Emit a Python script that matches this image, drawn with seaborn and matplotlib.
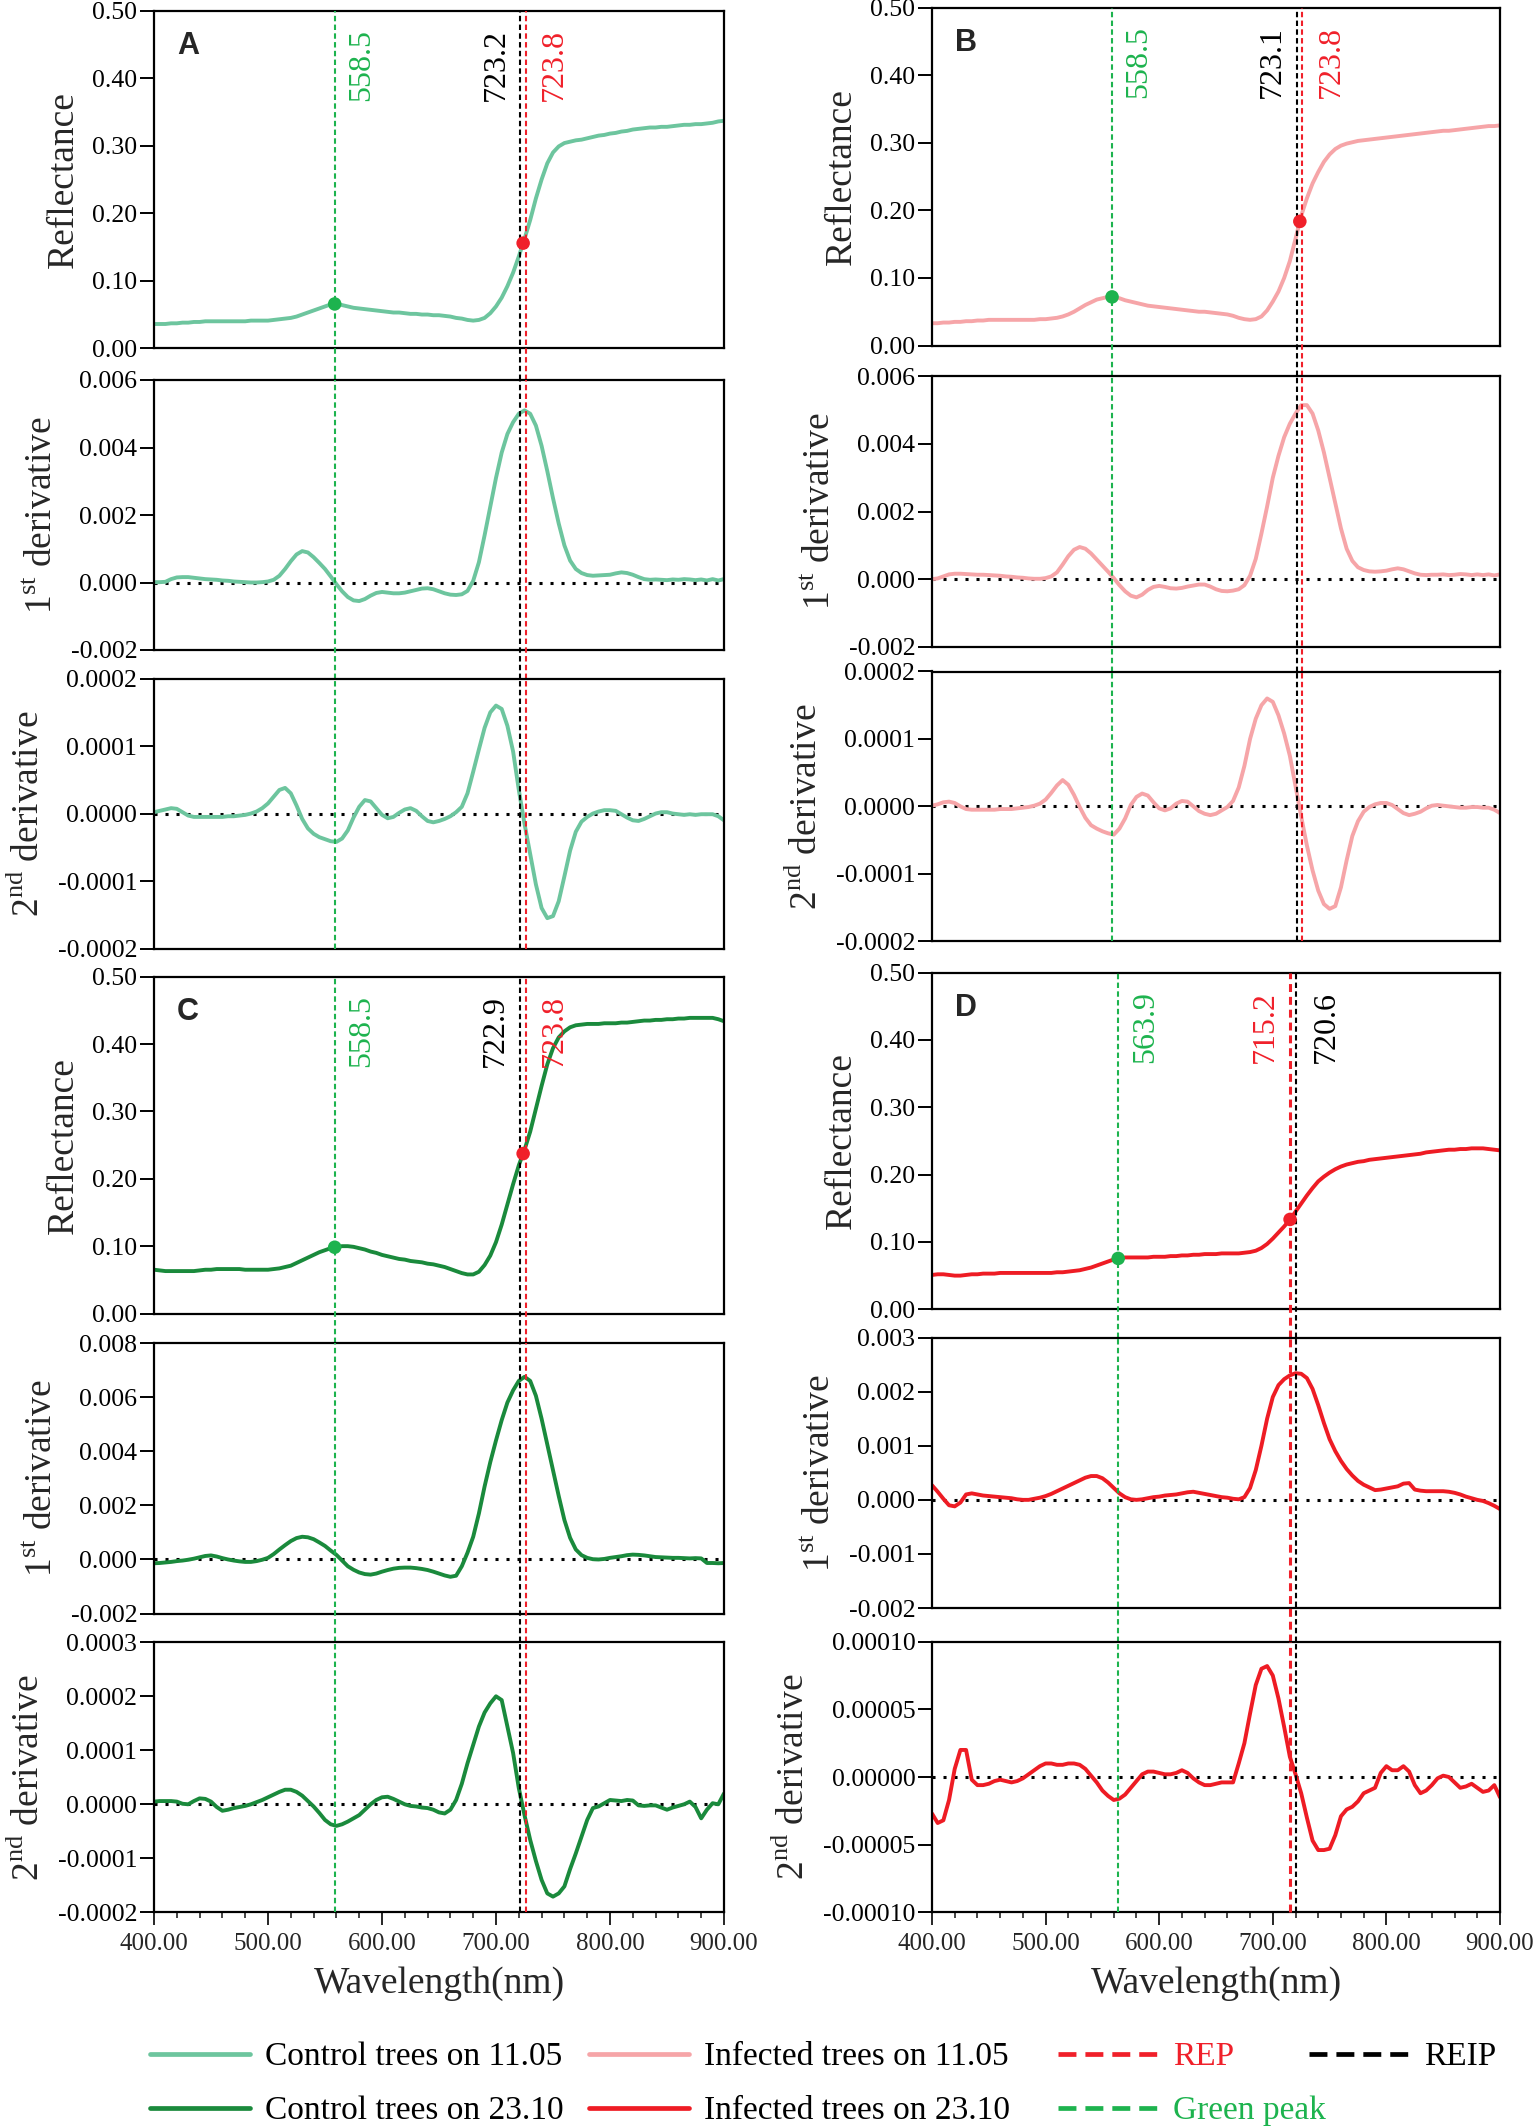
import numpy as np
import matplotlib
matplotlib.use("Agg")
import matplotlib.pyplot as plt
import seaborn as sns
from matplotlib.lines import Line2D
from matplotlib.transforms import ScaledTranslation
from matplotlib.ticker import FixedLocator, MultipleLocator, FuncFormatter

# ------------------------------------------------------------------ data
wavelength = np.arange(400, 905, 5)          # nm, 101 samples
E4 = 1e-4
E5 = 1e-5

# --- A: Control trees on 11.05
refl_A = np.array([
    .036, .036, .036, .037, .037, .038, .038, .039, .039, .040,
    .040, .040, .040, .040, .040, .040, .040, .041, .041, .041,
    .041, .042, .043, .044, .045, .047, .050, .053, .056, .059,
    .062, .065, .066, .064, .062, .060, .059, .058, .057, .056,
    .055, .054, .053, .053, .052, .051, .051, .050, .050, .049,
    .049, .048, .047, .045, .044, .042, .041, .042, .045, .052,
    .062, .075, .092, .112, .136, .162, .190, .222, .250, .274,
    .290, .299, .304, .306, .308, .309, .311, .313, .315, .316,
    .318, .319, .321, .322, .324, .325, .326, .327, .327, .328,
    .328, .329, .330, .331, .331, .332, .332, .333, .334, .336,
    .337])
d1_A = np.array([
    0.1, 0.1, 0.2, 1.0, 1.5, 1.6, 1.6, 1.4, 1.2, 1.0,
    0.9, 0.8, 0.6, 0.5, 0.3, 0.2, 0.1, 0.0, 0.0, 0.1,
    0.3, 0.8, 2.0, 4.0, 6.3, 8.3, 9.3, 8.9, 7.5, 5.8,
    4.0, 1.8, -0.5, -2.6, -4.3, -5.3, -5.5, -4.9, -3.9, -3.1,
    -2.8, -3.0, -3.2, -3.2, -3.0, -2.6, -2.2, -1.8, -1.7, -2.0,
    -2.6, -3.2, -3.6, -3.7, -3.5, -2.5, 0.5, 6.0, 14.0, 22.5,
    31.0, 38.5, 44.0, 47.5, 50.0, 51.0, 50.0, 46.5, 40.5, 33.0,
    25.0, 17.5, 11.0, 6.5, 4.0, 2.8, 2.2, 2.0, 2.1, 2.2,
    2.3, 2.7, 3.0, 2.8, 2.3, 1.6, 1.0, 0.8, 0.9, 0.8,
    0.7, 0.9, 0.8, 1.0, 0.9, 0.7, 0.9, 0.6, 1.0, 0.6,
    1.0]) * E4
d2_A = np.array([
    0.2, 0.4, 0.6, 0.8, 0.7, 0.2, -0.3, -0.5, -0.5, -0.5,
    -0.5, -0.5, -0.5, -0.4, -0.4, -0.3, -0.2, 0.0, 0.3, 0.8,
    1.5, 2.5, 3.5, 3.8, 3.0, 1.2, -0.8, -2.2, -3.0, -3.5,
    -3.8, -4.1, -4.2, -3.7, -2.5, -0.6, 1.0, 2.0, 1.8, 0.8,
    -0.2, -0.7, -0.5, 0.1, 0.6, 0.8, 0.4, -0.4, -1.1, -1.3,
    -1.1, -0.8, -0.4, 0.2, 1.0, 3.0, 6.2, 9.5, 12.7, 15.0,
    16.0, 15.5, 13.0, 9.2, 3.5, -1.5, -6.0, -10.5, -14.0, -15.5,
    -15.2, -13.0, -9.3, -5.5, -2.7, -1.2, -0.5, 0.0, 0.3, 0.5,
    0.5, 0.4, -0.1, -0.6, -1.0, -1.1, -0.8, -0.4, 0.0, 0.2,
    0.2, 0.0, -0.1, -0.2, -0.1, -0.2, -0.1, -0.1, -0.1, -0.4,
    -1.0]) * E5

# --- B: Infected trees on 11.05
refl_B = np.array([
    .033, .033, .034, .034, .035, .035, .036, .036, .037, .037,
    .038, .038, .038, .038, .038, .038, .038, .038, .038, .039,
    .039, .040, .041, .043, .046, .050, .055, .060, .064, .068,
    .070, .072, .072, .070, .067, .065, .063, .061, .059, .058,
    .057, .056, .055, .054, .053, .052, .051, .050, .050, .049,
    .048, .047, .046, .044, .041, .039, .038, .039, .043, .052,
    .065, .080, .100, .125, .158, .192, .218, .240, .257, .272,
    .283, .291, .296, .299, .301, .303, .304, .305, .306, .307,
    .308, .309, .310, .311, .312, .313, .314, .315, .316, .317,
    .318, .318, .319, .320, .321, .322, .323, .324, .325, .325,
    .326])
d1_B = np.array([
    0.0, 0.2, 0.8, 1.4, 1.6, 1.6, 1.5, 1.4, 1.3, 1.3,
    1.2, 1.1, 1.0, 0.8, 0.7, 0.5, 0.4, 0.2, 0.1, 0.1,
    0.3, 0.8, 2.0, 4.3, 6.8, 8.7, 9.5, 9.0, 7.6, 5.8,
    4.0, 2.2, 0.3, -1.8, -3.6, -4.9, -5.4, -4.6, -3.2, -2.3,
    -2.0, -2.3, -2.7, -2.8, -2.6, -2.2, -1.9, -1.6, -1.6, -2.2,
    -3.0, -3.5, -3.6, -3.4, -3.0, -1.8, 1.0, 6.0, 13.5, 21.5,
    30.0, 36.5, 42.0, 46.0, 49.0, 51.5, 51.5, 49.0, 44.0, 37.5,
    30.0, 22.5, 15.0, 9.0, 5.4, 3.5, 2.7, 2.3, 2.2, 2.3,
    2.5, 2.9, 3.2, 2.9, 2.3, 1.7, 1.3, 1.2, 1.3, 1.3,
    1.4, 1.2, 1.3, 1.5, 1.4, 1.2, 1.4, 1.2, 1.4, 1.1,
    1.4]) * E4
d2_B = np.array([
    0.1, 0.3, 0.6, 0.7, 0.5, 0.0, -0.4, -0.5, -0.5, -0.5,
    -0.5, -0.5, -0.4, -0.4, -0.4, -0.3, -0.2, -0.1, 0.1, 0.4,
    1.0, 2.0, 3.1, 3.9, 3.2, 1.7, -0.1, -1.7, -2.8, -3.3,
    -3.7, -4.0, -4.2, -3.3, -1.8, 0.2, 1.4, 1.9, 1.6, 0.6,
    -0.3, -0.6, -0.3, 0.4, 0.8, 0.7, 0.0, -0.7, -1.1, -1.3,
    -1.1, -0.6, -0.1, 0.8, 2.8, 6.0, 10.0, 13.0, 15.0, 16.0,
    15.5, 13.5, 10.8, 7.5, 3.0, -1.5, -5.8, -9.5, -12.5, -14.5,
    -15.2, -14.8, -12.0, -8.0, -4.4, -2.2, -0.8, -0.1, 0.3, 0.5,
    0.5, 0.2, -0.4, -1.0, -1.3, -1.1, -0.8, -0.3, 0.1, 0.2,
    0.1, 0.0, -0.1, -0.2, -0.2, -0.1, -0.1, -0.2, -0.2, -0.5,
    -1.0]) * E5

# --- C: Control trees on 23.10
refl_C = np.array([
    .065, .064, .063, .063, .063, .063, .063, .063, .064, .065,
    .065, .066, .066, .066, .066, .066, .065, .065, .065, .065,
    .065, .066, .067, .069, .071, .075, .079, .083, .087, .091,
    .094, .097, .099, .100, .100, .099, .097, .095, .092, .090,
    .087, .085, .083, .081, .080, .078, .077, .076, .074, .073,
    .071, .069, .066, .063, .060, .058, .058, .062, .072, .086,
    .106, .132, .162, .192, .220, .243, .270, .304, .338, .370,
    .394, .410, .419, .425, .428, .429, .430, .430, .430, .431,
    .431, .431, .432, .432, .433, .434, .435, .435, .436, .436,
    .437, .437, .438, .438, .439, .439, .439, .439, .439, .437,
    .434])
d1_C = np.array([
    -1.4, -1.3, -1.1, -0.9, -0.6, -0.4, -0.1, 0.3, 0.8, 1.3,
    1.5, 1.1, 0.5, 0.0, -0.4, -0.7, -0.9, -0.9, -0.6, -0.1,
    0.6, 2.0, 3.7, 5.3, 6.8, 7.9, 8.4, 8.2, 7.5, 6.3,
    5.0, 3.3, 1.7, -0.4, -2.5, -3.8, -4.8, -5.4, -5.6, -5.2,
    -4.5, -3.9, -3.4, -3.1, -3.0, -3.0, -3.2, -3.5, -3.9, -4.5,
    -5.2, -5.9, -6.4, -6.0, -2.5, 2.5, 8.4, 17.0, 27.0, 36.0,
    44.0, 51.5, 58.0, 62.5, 66.0, 67.5, 66.0, 60.5, 52.0, 42.5,
    33.0, 23.5, 14.6, 8.0, 3.7, 1.6, 0.6, 0.1, 0.0, 0.2,
    0.6, 0.9, 1.2, 1.6, 1.8, 1.7, 1.5, 1.2, 0.9, 0.8,
    0.7, 0.6, 0.6, 0.5, 0.4, 0.5, 0.4, -1.3, -1.3, -1.4,
    -1.3]) * E4
d2_C = np.array([
    0.5, 0.6, 0.6, 0.6, 0.5, 0.1, 0.0, 0.6, 1.1, 1.0,
    0.5, -0.5, -1.2, -1.0, -0.7, -0.5, -0.3, 0.0, 0.4, 0.8,
    1.3, 1.8, 2.3, 2.7, 2.7, 2.3, 1.6, 0.6, -0.4, -1.6,
    -2.9, -3.7, -4.0, -3.7, -3.2, -2.6, -2.0, -1.0, 0.0, 0.8,
    1.3, 1.4, 1.0, 0.5, 0.0, -0.3, -0.4, -0.6, -0.7, -1.0,
    -1.5, -1.7, -1.0, 0.8, 3.8, 7.6, 11.0, 14.4, 17.0, 18.7,
    20.0, 19.3, 14.4, 9.5, 3.0, -2.0, -6.6, -10.5, -14.0, -16.5,
    -17.1, -16.5, -15.2, -12.0, -9.1, -6.0, -2.9, -0.7, -0.4, 0.2,
    0.8, 0.7, 0.6, 0.8, 0.7, -0.2, -0.3, -0.2, -0.2, -0.6,
    -1.0, -0.6, -0.3, 0.0, 0.5, -0.5, -2.6, -1.0, 0.2, 0.0,
    2.0]) * E5

# --- D: Infected trees on 23.10
refl_D = np.array([
    .051, .052, .052, .051, .050, .050, .051, .052, .052, .053,
    .053, .053, .054, .054, .054, .054, .054, .054, .054, .054,
    .054, .054, .055, .055, .056, .057, .058, .060, .062, .065,
    .068, .071, .074, .076, .077, .077, .077, .077, .077, .078,
    .078, .078, .079, .079, .080, .080, .081, .081, .082, .082,
    .082, .083, .083, .083, .083, .084, .085, .087, .091, .097,
    .105, .114, .123, .133, .145, .157, .169, .180, .190, .197,
    .203, .208, .212, .215, .217, .219, .220, .222, .223, .224,
    .225, .226, .227, .228, .229, .230, .231, .233, .234, .235,
    .236, .237, .237, .238, .238, .239, .239, .239, .238, .237,
    .236])
d1_D = np.array([
    2.7, 1.5, 0.2, -1.0, -1.2, -0.5, 1.0, 1.2, 1.0, 0.8,
    0.7, 0.6, 0.5, 0.4, 0.3, 0.1, 0.0, 0.0, 0.2, 0.4,
    0.7, 1.1, 1.6, 2.1, 2.6, 3.1, 3.6, 4.1, 4.4, 4.4,
    4.0, 3.2, 2.2, 1.2, 0.5, 0.1, 0.0, 0.1, 0.3, 0.5,
    0.6, 0.8, 0.9, 1.0, 1.2, 1.4, 1.5, 1.3, 1.1, 0.9,
    0.7, 0.5, 0.4, 0.2, 0.1, 0.5, 2.2, 5.5, 10.0, 15.0,
    19.0, 21.2, 22.3, 23.0, 23.4, 23.3, 22.5, 20.5, 17.5, 14.2,
    11.2, 9.0, 7.2, 5.7, 4.5, 3.5, 2.8, 2.3, 1.8, 1.9,
    2.1, 2.3, 2.5, 3.0, 3.1, 1.9, 1.7, 1.6, 1.6, 1.6,
    1.6, 1.5, 1.3, 1.0, 0.6, 0.3, 0.0, -0.2, -0.6, -1.1,
    -1.7]) * E4
d2_D = np.array([
    -2.7, -3.4, -3.2, -1.7, 0.6, 2.0, 2.0, -0.2, -0.6, -0.6,
    -0.5, -0.3, -0.2, -0.3, -0.4, -0.3, -0.1, 0.2, 0.5, 0.8,
    1.0, 1.0, 0.9, 0.9, 1.0, 1.0, 0.9, 0.6, 0.1, -0.4,
    -1.0, -1.4, -1.7, -1.6, -1.3, -0.8, -0.3, 0.2, 0.4, 0.4,
    0.3, 0.2, 0.2, 0.3, 0.5, 0.3, -0.1, -0.4, -0.6, -0.6,
    -0.5, -0.4, -0.4, -0.4, 1.0, 2.5, 4.7, 6.8, 8.0, 8.2,
    7.5, 5.8, 3.7, 1.5, 0.2, -1.2, -3.0, -4.7, -5.4, -5.4,
    -5.3, -4.3, -2.9, -2.4, -2.2, -1.8, -1.2, -1.0, -0.8, 0.3,
    0.8, 0.5, 0.5, 0.8, 0.4, -0.6, -1.2, -1.0, -0.6, -0.1,
    0.1, 0.0, -0.4, -0.8, -0.7, -0.5, -0.8, -1.1, -1.0, -0.6,
    -1.5]) * E5

panel_letters = ["A", "B", "C", "D"]
series_names = ["Control trees on 11.05", "Infected trees on 11.05",
                "Control trees on 23.10", "Infected trees on 23.10"]
green_peak_nm = [558.5, 558.5, 558.5, 563.9]
rep_nm = [723.8, 723.8, 723.8, 715.2]
reip_nm = [723.2, 723.1, 722.9, 720.6]

refl_ticks = [0.0, 0.1, 0.2, 0.3, 0.4, 0.5]
d1_ticks = [[-0.002, 0.0, 0.002, 0.004, 0.006],
            [-0.002, 0.0, 0.002, 0.004, 0.006],
            [-0.002, 0.0, 0.002, 0.004, 0.006, 0.008],
            [-0.002, -0.001, 0.0, 0.001, 0.002, 0.003]]
d2_ticks = [[-0.0002, -0.0001, 0.0, 0.0001, 0.0002],
            [-0.0002, -0.0001, 0.0, 0.0001, 0.0002],
            [-0.0002, -0.0001, 0.0, 0.0001, 0.0002, 0.0003],
            [-0.0001, -0.00005, 0.0, 0.00005, 0.0001]]
d1_decimals = [3, 3, 3, 3]
d2_decimals = [4, 4, 4, 5]
x_ticks = [400, 500, 600, 700, 800, 900]

refl_series = [refl_A, refl_B, refl_C, refl_D]
d1_series = [d1_A, d1_B, d1_C, d1_D]
d2_series = [d2_A, d2_B, d2_C, d2_D]
for arr in refl_series + d1_series + d2_series:
    assert len(arr) == len(wavelength)

# ------------------------------------------------------------------ style
series_colors = ["#6dc59e", "#f6a5a8", "#1a8a3c", "#ee1c24"]
GREEN = "#1db34e"
RED = "#f0202a"
BLACK = "#000000"

sns.set_style("ticks")
plt.rcParams["font.family"] = ["Liberation Serif", "DejaVu Serif"]
plt.rcParams["mathtext.fontset"] = "custom"
plt.rcParams["mathtext.rm"] = "Liberation Serif"
plt.rcParams["axes.unicode_minus"] = False
plt.rcParams["axes.linewidth"] = 1.6
plt.rcParams["axes.edgecolor"] = "black"

W, H = 1535, 2128
fig = plt.figure(figsize=(W / 100, H / 100), dpi=100)

# column x-extent and row y-extents in pixels
col_x = {"A": (154, 724), "B": (932, 1500), "C": (154, 724), "D": (932, 1500)}
row_y = {
    "A": [(10.7, 348.3), (380, 650), (678.6, 948.5)],
    "B": [(7.9, 345.5), (376.4, 646.7), (671.5, 941.2)],
    "C": [(976.8, 1313.5), (1343, 1613.6), (1642.3, 1912.3)],
    "D": [(972.6, 1309.3), (1337.5, 1608.1), (1641.7, 1912.3)],
}


def px_axes(l, r, t, b):
    return fig.add_axes([l / W, 1 - b / H, (r - l) / W, (b - t) / H])


def fmt(dec):
    def f(v, pos):
        if abs(v) < 1e-12:
            v = 0.0
        return f"{v:.{dec}f}"
    return FuncFormatter(f)


VL_LS = (0, (2.6, 1.6))
ylabels = ["Reflectance", "1$^{\\mathregular{st}}$ derivative",
           "2$^{\\mathregular{nd}}$ derivative"]

for i, letter in enumerate(panel_letters):
    l, r = col_x[letter]
    rows = row_y[letter]
    axs = [px_axes(l, r, t, b) for (t, b) in rows]
    color = series_colors[i]
    data = [refl_series[i], d1_series[i], d2_series[i]]
    ticks = [refl_ticks, d1_ticks[i], d2_ticks[i]]
    decs = [2, d1_decimals[i], d2_decimals[i]]
    bottom_row = letter in ("C", "D")

    for j, ax in enumerate(axs):
        sns.lineplot(x=wavelength, y=data[j], ax=ax, color=color,
                     linewidth=2.8, estimator=None, sort=False, zorder=2)
        ax.set_xlim(400, 900)
        ax.set_ylim(ticks[j][0], ticks[j][-1])
        ax.yaxis.set_major_locator(FixedLocator(ticks[j]))
        ax.yaxis.set_major_formatter(fmt(decs[j]))
        ax.tick_params(axis="y", direction="out", length=10, width=1.4,
                       labelsize=18.5, pad=2, colors="black")
        ax.set_ylabel(ylabels[j], fontsize=27, labelpad=8)
        for sp in ax.spines.values():
            sp.set_visible(True)
            sp.set_linewidth(1.6)
        if j > 0:
            ax.axhline(0, color="black", linestyle=(0, (1, 2.6)),
                       linewidth=2.2, zorder=1.5)
        if j == 2 and bottom_row:
            ax.xaxis.set_major_locator(FixedLocator(x_ticks))
            ax.xaxis.set_major_formatter(FuncFormatter(lambda v, p: f"{v:.2f}"))
            ax.xaxis.set_minor_locator(MultipleLocator(20))
            ax.tick_params(axis="x", which="major", direction="out", length=9,
                           width=1.4, labelsize=18, pad=6)
            ax.tick_params(axis="x", which="minor", direction="out", length=4.5,
                           width=1.2)
            ax.set_xlabel("Wavelength(nm)", fontsize=27, labelpad=8)
        else:
            ax.tick_params(axis="x", which="both", bottom=False, labelbottom=False)
            ax.set_xlabel("")

    # nearly coincident REP / REIP lines are drawn a few pixels apart, as in the figure
    close = abs(rep_nm[i] - reip_nm[i]) < 2.0
    nudge_pt = 1.8 if close else 0.0
    reip_nudge = -nudge_pt if reip_nm[i] <= rep_nm[i] else nudge_pt
    rep_nudge = -reip_nudge

    vlines = [(green_peak_nm[i], GREEN, 1.5, 0.0),
              (reip_nm[i], BLACK, 1.5, reip_nudge),
              (rep_nm[i], RED, 2.2 if letter == "D" else 1.5, rep_nudge)]
    for xv, c, lw, nudge in vlines:
        for j, ax in enumerate(axs):
            h_px = rows[j][1] - rows[j][0]
            gap_px = rows[j + 1][0] - rows[j][1] if j < 2 else 0.0
            ln = ax.axvline(xv, ymin=-gap_px / h_px, ymax=1, color=c,
                            linestyle=VL_LS, linewidth=lw, zorder=3, clip_on=False)
            ln.set_transform(ax.get_xaxis_transform() +
                             ScaledTranslation(nudge / 72, 0, fig.dpi_scale_trans))

    # dots on the reflectance curve
    ax0 = axs[0]
    gp_y = np.interp(green_peak_nm[i], wavelength, refl_series[i])
    rep_y = np.interp(rep_nm[i], wavelength, refl_series[i])
    sns.scatterplot(x=[green_peak_nm[i]], y=[gp_y], ax=ax0, color=GREEN, s=95,
                    edgecolor="none", zorder=5, legend=False)
    sns.scatterplot(x=[rep_nm[i]], y=[rep_y], ax=ax0, color=RED, s=95,
                    edgecolor="none", zorder=5, legend=False)

    # rotated value labels
    def vlabel(xv, text, c, side, off):
        ax0.annotate(text, xy=(xv, 0.945), xycoords=("data", "axes fraction"),
                     xytext=(off if side == "right" else -off, 0),
                     textcoords="offset points", rotation=90,
                     ha="left" if side == "right" else "right", va="top",
                     color=c, fontsize=23)

    vlabel(green_peak_nm[i], f"{green_peak_nm[i]:.1f}", GREEN, "right", 9)
    if reip_nm[i] <= rep_nm[i]:
        vlabel(reip_nm[i], f"{reip_nm[i]:.1f}", BLACK, "left", 8.5)
        vlabel(rep_nm[i], f"{rep_nm[i]:.1f}", RED, "right", 12)
    else:
        vlabel(rep_nm[i], f"{rep_nm[i]:.1f}", RED, "left", 7)
        vlabel(reip_nm[i], f"{reip_nm[i]:.1f}", BLACK, "right", 11)

    ax0.text(0.04, 0.94, letter, transform=ax0.transAxes, fontsize=22,
             fontweight="bold", family=["Liberation Sans", "DejaVu Sans"],
             ha="left", va="top")

# ------------------------------------------------------------------ legend
legend_labels = ["Control trees on 11.05", "Control trees on 23.10",
                 "Infected trees on 11.05", "Infected trees on 23.10",
                 "REP", "Green peak", "REIP"]
legend_line_colors = [series_colors[0], series_colors[2], series_colors[1],
                      series_colors[3], RED, GREEN, BLACK]
legend_text_colors = ["black", "black", "black", "black", RED, GREEN, "black"]
legend_dashed = [False, False, False, False, True, True, True]
legend_col = [0, 0, 1, 1, 2, 2, 3]
legend_row = [0, 1, 0, 1, 0, 1, 0]
col_x_px = [150, 589, 1058, 1309]
row_y_px = [2057, 2111]

for lab, lc, tc, dashed, c, r in zip(legend_labels, legend_line_colors,
                                      legend_text_colors, legend_dashed,
                                      legend_col, legend_row):
    h = Line2D([], [], color=lc, linewidth=3.4,
               linestyle=(0, (3.8, 1.9)) if dashed else "-")
    fig.legend(handles=[h], labels=[lab], loc="center left",
               bbox_to_anchor=(col_x_px[c] / W, 1 - row_y_px[r] / H),
               frameon=False, borderpad=0, borderaxespad=0,
               handlelength=3.0, handletextpad=0.45, fontsize=24,
               labelcolor=tc)

fig.savefig("out.png", dpi=100)
